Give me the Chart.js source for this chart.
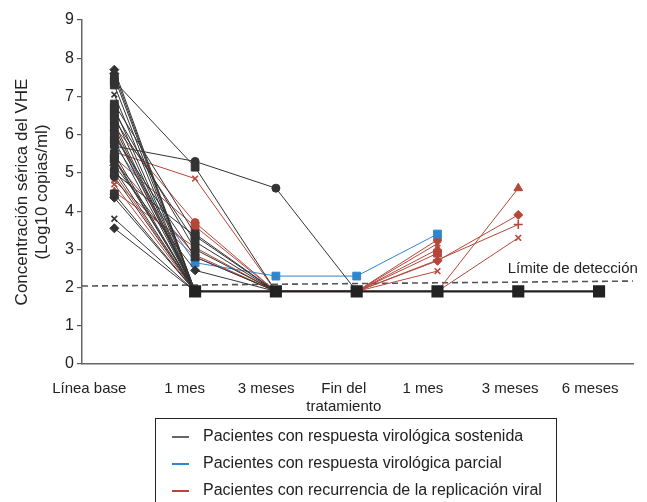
<!DOCTYPE html>
<html>
<head>
<meta charset="utf-8">
<script src="https://cdn.jsdelivr.net/npm/chart.js@4"></script>
<style>
body { margin: 0; background: #fff; font-family: "Liberation Sans", Arial, sans-serif; }
#wrap { position: relative; width: 647px; height: 502px; overflow: hidden; }
#legend { position: absolute; left: 155px; top: 418px; width: 402px; height: 100px;
          border: 1px solid #222; box-sizing: border-box; font-size: 16px; color: #222; }
.item { position: absolute; left: 16px; height: 20px; line-height: 20px; white-space: nowrap; }
.item span { display: inline-block; width: 17px; height: 2px; vertical-align: middle; margin-right: 14px; }
</style>
</head>
<body>
<div id="wrap">
  <canvas id="chart" width="647" height="502"></canvas>
  <div id="legend"></div>
</div>
<script>
const categories = ["Línea base", "1 mes", "3 meses", ["Fin del", "tratamiento"], "1 mes", "3 meses", "6 meses"];
const yTicks = [0, 1, 2, 3, 4, 5, 6, 7, 8, 9];

// niveles indetectables (línea inferior)
const indetectable = [null, 1.9, 1.9, 1.9, 1.9, 1.9, 1.9];
// límite de detección, extremo izquierdo y derecho
const limiteDeteccion = [2.04, 2.17];

// pacientes con respuesta virológica sostenida
const sostenida = [
    [7.7, 1.9], [7.6, 1.9], [7.5, 1.9], [7.4, 5.15, 1.9], [7.3, 1.9], [7.05, 1.9],
    [6.8, 3.4, 1.9], [6.7, 1.9], [6.6, 3.0, 1.9], [6.5, 1.9], [6.4, 3.2, 1.9], [6.3, 1.9],
    [6.2, 1.9], [6.05, 1.9], [5.95, 2.8, 1.9], [5.85, 1.9], [5.7, 5.3, 4.6, 1.9],
    [5.5, 1.9], [5.4, 1.9], [5.35, 1.9], [5.2, 2.45, 1.9], [5.1, 1.9], [5.0, 3.35, 1.9],
    [4.9, 1.9], [4.45, 1.9], [4.35, 1.9], [3.8, 1.9], [3.55, 1.9]
];
const sostenidaMarcas = [
    "rectRot", "rectRot", "rect", "rect", "rect", "crossRot",
    "rect", "rect", "rect", "rect", "rect", "circle",
    "rect", "circle", "rect", "rect", "circle",
    "rect", "rect", "rect", "rectRot", "circle", "rect",
    "circle", "rect", "rectRot", "crossRot", "rectRot"
];

// pacientes con respuesta virológica parcial
const parcial = [
    [5.75, 2.65, 2.3, 2.3, 3.4]
];
const parcialMarcas = ["rect"];

// pacientes con recurrencia de la replicación viral
const recurrencia = [
    [6.2, 3.7, 1.9, 1.9, 3.25],
    [5.55, 4.85, 1.9, 1.9, 3.15],
    [4.5, 3.05, 1.9, 1.9, 3.0],
    [5.4, 3.6, 1.9, 1.9, 2.9],
    [6.1, 1.9, 1.9, 1.9, 2.7, 3.9],
    [5.3, 2.85, 1.9, 1.9, 2.72, 3.65],
    [4.7, 1.9, 1.9, 1.9, 2.43],
    [5.0, 1.9, 1.9, 1.9, 1.9, 4.6],
    [4.8, 2.8, 1.9, 1.9, 1.9, 3.3]
];
const recurrenciaMarcas = ["circle", "crossRot", "triangle", "rect", "rectRot", "cross", "crossRot", "triangle", "crossRot"];

const grupos = [
    { label: "Pacientes con respuesta virológica sostenida", color: "#333333", legendColor: "#666666", series: sostenida, marcas: sostenidaMarcas },
    { label: "Pacientes con respuesta virológica parcial", color: "#2f86d0", legendColor: "#2f86d0", series: parcial, marcas: parcialMarcas },
    { label: "Pacientes con recurrencia de la replicación viral", color: "#b5473a", legendColor: "#b5473a", series: recurrencia, marcas: recurrenciaMarcas }
];

const xMin = -0.4, xMax = 6.42;
// posición de las etiquetas del eje x (no todas centradas bajo sus puntos)
const posEtiquetas = [-0.31, 0.87, 1.88, 2.84, 3.82, 4.9, 5.89];
const radios = { rect: 5.5, circle: 4, rectRot: 4.5, triangle: 5, crossRot: 4, cross: 4.5 };

const datasets = [];
datasets.push({
    data: indetectable.map((v, i) => ({ x: i, y: v })),
    borderColor: "#222", backgroundColor: "#222", borderWidth: 2.2,
    pointStyle: "rect", pointRadius: 7, spanGaps: false
});
grupos.forEach(g => {
    g.series.forEach((s, k) => {
        const m = g.marcas[k];
        datasets.push({
            data: s.map((v, i) => ({ x: i, y: v })),
            borderColor: g.color, backgroundColor: g.color,
            borderWidth: 1, pointStyle: m, pointRadius: radios[m],
            pointBorderWidth: (m === "cross" || m === "crossRot") ? 1.6 : 1
        });
    });
});
datasets.push({
    data: [{ x: xMin, y: limiteDeteccion[0] }, { x: xMax, y: limiteDeteccion[1] }],
    borderColor: "#555", borderWidth: 1.6, borderDash: [6, 4], pointRadius: 0
});

const etiquetaLimite = {
    id: "etiquetaLimite",
    afterDatasetsDraw(chart) {
        const { ctx, scales: { x, y } } = chart;
        ctx.save();
        ctx.font = "15px 'Liberation Sans', Arial, sans-serif";
        ctx.fillStyle = "#222";
        ctx.textBaseline = "middle";
        ctx.fillText("Límite de detección", x.getPixelForValue(4.87), y.getPixelForValue(2.5));
        ctx.restore();
    }
};

new Chart(document.getElementById("chart"), {
    type: "line",
    data: { datasets: datasets },
    options: {
        responsive: false,
        animation: false,
        layout: { padding: { top: 20, right: 14, left: 0, bottom: 0 } },
        plugins: { legend: { display: false }, tooltip: { enabled: false } },
        scales: {
            x: {
                type: "linear", min: xMin, max: xMax,
                afterBuildTicks: s => { s.ticks = posEtiquetas.map(v => ({ value: v })); },
                afterFit: s => { s.height = 138; },
                grid: { display: false },
                border: { color: "#666", width: 1.5 },
                ticks: {
                    autoSkip: false, maxRotation: 0, padding: 8,
                    color: "#222", font: { size: 15, family: "'Liberation Sans', Arial, sans-serif" },
                    callback: (v, i) => categories[i]
                }
            },
            y: {
                min: 0, max: 9,
                afterBuildTicks: s => { s.ticks = yTicks.map(v => ({ value: v })); },
                afterFit: s => { s.width = 82; },
                grid: { drawOnChartArea: false, tickLength: 5, color: "#555", lineWidth: 1.2 },
                border: { color: "#666", width: 1.5 },
                ticks: { padding: 3, color: "#222", font: { size: 16, family: "'Liberation Sans', Arial, sans-serif" } },
                title: {
                    display: true,
                    text: ["Concentración sérica del VHE", "(Log10 copias/ml)"],
                    color: "#222",
                    font: { size: 17, family: "'Liberation Sans', Arial, sans-serif" },
                    padding: { top: 12, bottom: 0 }
                }
            }
        }
    },
    plugins: [etiquetaLimite]
});

const legend = document.getElementById("legend");
grupos.forEach((g, i) => {
    const d = document.createElement("div");
    d.className = "item";
    d.style.top = (7 + i * 27) + "px";
    d.innerHTML = `<span style="background:${g.legendColor}"></span>${g.label}`;
    legend.appendChild(d);
});
</script>
</body>
</html>
